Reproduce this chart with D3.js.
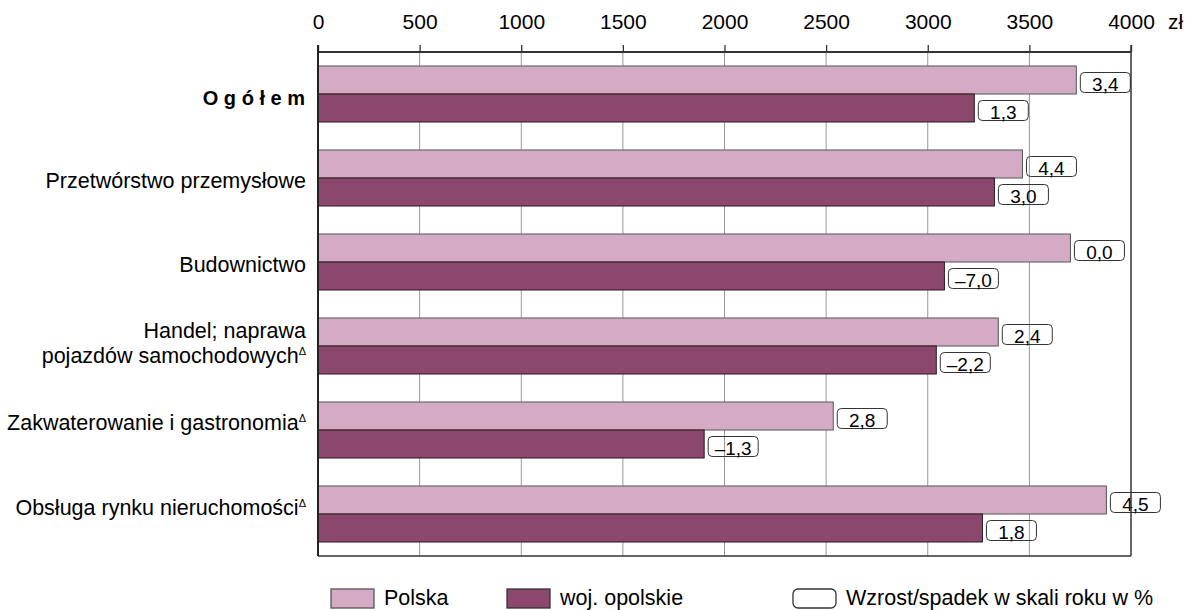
<!DOCTYPE html>
<html>
<head>
<meta charset="utf-8">
<script src="https://cdn.jsdelivr.net/npm/d3@7"></script>
<style>
  html, body { margin: 0; padding: 0; background: #fff; }
  svg { display: block; }
  text { font-family: "Liberation Sans", Arial, sans-serif; fill: #000; }
</style>
</head>
<body>
<svg id="chart" width="1195" height="610"></svg>
<script>
// ---- data ----
const categories = [
  "O g ó ł e m",
  "Przetwórstwo przemysłowe",
  "Budownictwo",
  "Handel; naprawa|pojazdów samochodowych",
  "Zakwaterowanie i gastronomia",
  "Obsługa rynku nieruchomości"
];
const categoryMarks = ["", "", "", "Δ", "Δ", "Δ"];
const seriesNames = ["Polska", "woj. opolskie"];
const polskaValues = [3731, 3466, 3702, 3347, 2535, 3879];
const opolskieValues = [3229, 3328, 3082, 3042, 1900, 3269];
const polskaChange = [3.4, 4.4, 0.0, 2.4, 2.8, 4.5];
const opolskieChange = [1.3, 3.0, -7.0, -2.2, -1.3, 1.8];
const tickValues = [0, 500, 1000, 1500, 2000, 2500, 3000, 3500, 4000];
const unitLabel = "zł";
const legendChangeLabel = "Wzrost/spadek w skali roku w %";

// ---- layout ----
const pLeft = 318, pRight = 1131, pTop = 52, pBottom = 556;
const colors = ["#D4AAC5", "#8C476C"];
const strokes = ["#555", "#2a1a22"];
const labelShift = [11, 10, 10, -8, 0, 1];

const svg = d3.select("#chart");
const x = d3.scaleLinear().domain([0, 4000]).range([pLeft, pRight]);
const y0 = d3.scaleBand().domain(d3.range(categories.length)).range([pTop, pBottom]);
const bw = y0.bandwidth();
const y1 = d3.scaleBand().domain([0, 1]).range([bw / 6, bw * 5 / 6]);

const fmt = v => (v < 0 ? "–" : "") + Math.abs(v).toFixed(1).replace(".", ",");

// gridlines
svg.append("g").selectAll("line").data(tickValues.slice(1, -1)).join("line")
  .attr("x1", d => x(d)).attr("x2", d => x(d))
  .attr("y1", pTop).attr("y2", pBottom)
  .attr("stroke", "#999").attr("stroke-width", 1);

// top axis
const axis = d3.axisTop(x).tickValues(tickValues).tickSize(7).tickPadding(16).tickFormat(d => d);
const ag = svg.append("g").attr("transform", `translate(0,${pTop})`).call(axis);
ag.select(".domain").remove();
ag.selectAll(".tick line").attr("stroke", "#333").attr("stroke-width", 1.3);
ag.selectAll(".tick text").attr("font-size", 21).attr("font-family", "Liberation Sans, Arial, sans-serif").attr("fill", "#000");
svg.append("text").attr("x", 1168).attr("y", 29).attr("font-size", 21).text(unitLabel);

// bars
const rows = categories.map((c, i) => ({
  i,
  vals: [polskaValues[i], opolskieValues[i]],
  ch: [polskaChange[i], opolskieChange[i]]
}));
const gRows = svg.append("g").selectAll("g").data(rows).join("g")
  .attr("transform", d => `translate(0,${y0(d.i)})`);

gRows.selectAll("rect.bar").data(d => d.vals.map((v, s) => ({ v, s }))).join("rect")
  .attr("class", "bar")
  .attr("x", x(0)).attr("y", d => y1(d.s))
  .attr("width", d => x(d.v) - x(0)).attr("height", y1.bandwidth())
  .attr("fill", d => colors[d.s]).attr("stroke", d => strokes[d.s]).attr("stroke-width", 1);

// value boxes
const boxes = gRows.selectAll("g.box").data(d => d.vals.map((v, s) => ({ v, s, c: d.ch[s] }))).join("g")
  .attr("class", "box")
  .attr("transform", d => `translate(${x(d.v) + 4},${y1(d.s) + y1.bandwidth() / 2 - 7.5})`);
boxes.append("rect").attr("width", 50).attr("height", 20).attr("rx", 4)
  .attr("fill", "none").attr("stroke", "#333").attr("stroke-width", 1);
boxes.append("text").attr("x", 25).attr("y", 18).attr("text-anchor", "middle")
  .attr("font-size", 19).text(d => fmt(d.c));

// frame
svg.append("line").attr("x1", pLeft).attr("x2", pRight).attr("y1", pTop).attr("y2", pTop).attr("stroke", "#333").attr("stroke-width", 2);
svg.append("line").attr("x1", pLeft).attr("x2", pRight).attr("y1", pBottom).attr("y2", pBottom).attr("stroke", "#333").attr("stroke-width", 1.5);
svg.append("line").attr("x1", pLeft).attr("x2", pLeft).attr("y1", pTop - 7).attr("y2", pBottom).attr("stroke", "#222").attr("stroke-width", 2);
svg.append("line").attr("x1", pRight).attr("x2", pRight).attr("y1", pTop - 7).attr("y2", pBottom).attr("stroke", "#333").attr("stroke-width", 1.5);

// category labels
categories.forEach((c, i) => {
  const lines = c.split("|");
  const cy = y0(i) + bw / 2 + labelShift[i];
  lines.forEach((ln, k) => {
    const t = svg.append("text").attr("text-anchor", "end")
      .attr("y", cy + k * 25);
    if (i === 0) {
      t.attr("x", 305).attr("font-size", 20).attr("font-weight", "bold").text(ln);
    } else {
      t.attr("x", 306).attr("font-size", 21.5);
      t.append("tspan").text(ln);
      if (k === lines.length - 1 && categoryMarks[i]) {
        t.append("tspan").attr("font-size", 11).attr("dy", -8).text(categoryMarks[i]);
      }
    }
  });
});

// legend
const legendItems = [
  { name: seriesNames[0], fill: colors[0], stroke: "#555", rx: 0, x: 331 },
  { name: seriesNames[1], fill: colors[1], stroke: "#333", rx: 0, x: 507 },
  { name: legendChangeLabel, fill: "#fff", stroke: "#333", rx: 5, x: 793 }
];
const lg = svg.append("g").selectAll("g").data(legendItems).join("g")
  .attr("transform", d => `translate(${d.x},589)`);
lg.append("rect").attr("width", 43).attr("height", 19).attr("rx", d => d.rx)
  .attr("fill", d => d.fill).attr("stroke", d => d.stroke).attr("stroke-width", 1.3);
lg.append("text").attr("x", 53).attr("y", 16).attr("font-size", 21.5).text(d => d.name);
</script>
</body>
</html>
